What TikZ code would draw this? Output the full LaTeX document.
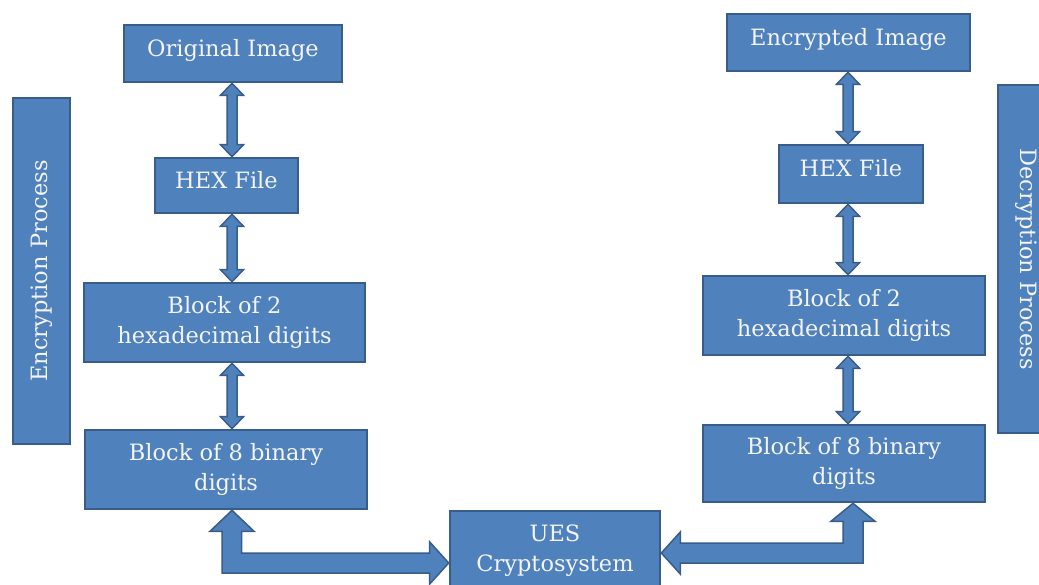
\documentclass[tikz,border=0pt]{standalone}
\usepackage{fontspec}
\setmainfont{DejaVu Serif}
\usetikzlibrary{calc}
\definecolor{boxfill}{RGB}{79,129,189}
\definecolor{boxline}{RGB}{56,93,138}
\definecolor{boxtext}{RGB}{244,244,244}
\newcommand{\vdarrow}[2]{%
  \draw[arr] (#1) -- ++(11.5,12) -- ++(-6.5,0) -- ($(#2)+(5,-12)$) -- ++(6.5,0)
    -- (#2) -- ++(-11.5,-12) -- ++(6.5,0) -- ($(#1)+(-5,12)$) -- ++(-6.5,0) -- cycle;}
\begin{document}
\begin{tikzpicture}[x=1pt,y=-1pt,
  blk/.style={draw=boxline, fill=boxfill, line width=2.6pt, text=boxtext,
    font=\fontsize{22.5}{30}\selectfont, align=center, inner sep=0pt, anchor=center},
  oneline/.style={text height=16pt, text depth=10pt},
  arr/.style={draw=boxline, fill=boxfill, line width=1.5pt, line join=miter}]
\useasboundingbox (0,0) rectangle (1039,585);
\fill[white] (0,0) rectangle (1039,585);
\clip (0,0) rectangle (1039,585);

\coordinate (colL) at (232,0);
\coordinate (colR) at (848,0);
\coordinate (colRb) at (853,0);

% left column
\node[blk, oneline, minimum width=218pt, minimum height=57pt] (orig) at (233,53.5) {Original Image};
\node[blk, oneline, minimum width=143pt, minimum height=55pt] (hexL) at (226.5,185.5) {HEX File};
\node[blk, minimum width=281pt, minimum height=79pt] (blk2L) at (224.5,322.5) {Block of 2\\hexadecimal digits};
\node[blk, minimum width=282pt, minimum height=79pt] (blk8L) at (226,469.5) {Block of 8 binary\\digits};
\node[blk, rotate=90, minimum width=346pt, minimum height=57pt] (encP) at (41.5,271) {Encryption Process};

% right column
\node[blk, oneline, minimum width=243pt, minimum height=57pt] (enc) at (848.5,42.5) {Encrypted Image};
\node[blk, oneline, minimum width=144pt, minimum height=58pt] (hexR) at (851,174) {HEX File};
\node[blk, minimum width=282pt, minimum height=79pt] (blk2R) at (844,315.5) {Block of 2\\hexadecimal digits};
\node[blk, minimum width=282pt, minimum height=77pt] (blk8R) at (844,463.5) {Block of 8 binary\\digits};
\node[blk, rotate=-90, minimum width=348pt, minimum height=57pt] (decP) at (1026.5,259) {Decryption Process};

% centre
\node[blk, minimum width=210pt, minimum height=79pt] (ues) at (555,550.5) {UES\\Cryptosystem};

% vertical double arrows
\vdarrow{orig.south -| colL}{hexL.north -| colL}
\vdarrow{hexL.south -| colL}{blk2L.north -| colL}
\vdarrow{blk2L.south -| colL}{blk8L.north -| colL}
\vdarrow{enc.south -| colR}{hexR.north -| colR}
\vdarrow{hexR.south -| colR}{blk2R.north -| colR}
\vdarrow{blk2R.south -| colR}{blk8R.north -| colR}

% elbow arrows
\draw[arr] (blk8L.south -| colL) -- ++(22,21) -- ++(-12.5,0) |- ($(ues.west)+(-19,2.5)$)
  -- ++(0,-11) -- ($(ues.west)+(0,12.5)$) -- ++(-19,21) -- ++(0,-11)
  -| ($(blk8L.south -| colL)+(-10,21)$) -- ++(-12,0) -- cycle;
\draw[arr] (blk8R.south -| colRb) -- ++(22,18) -- ++(-12,0) |- ($(ues.east)+(19,12.5)$)
  -- ++(0,11) -- ($(ues.east)+(0,2.5)$) -- ++(19,-21) -- ++(0,11)
  -| ($(blk8R.south -| colRb)+(-10,18)$) -- ++(-12,0) -- cycle;
\end{tikzpicture}
\end{document}
